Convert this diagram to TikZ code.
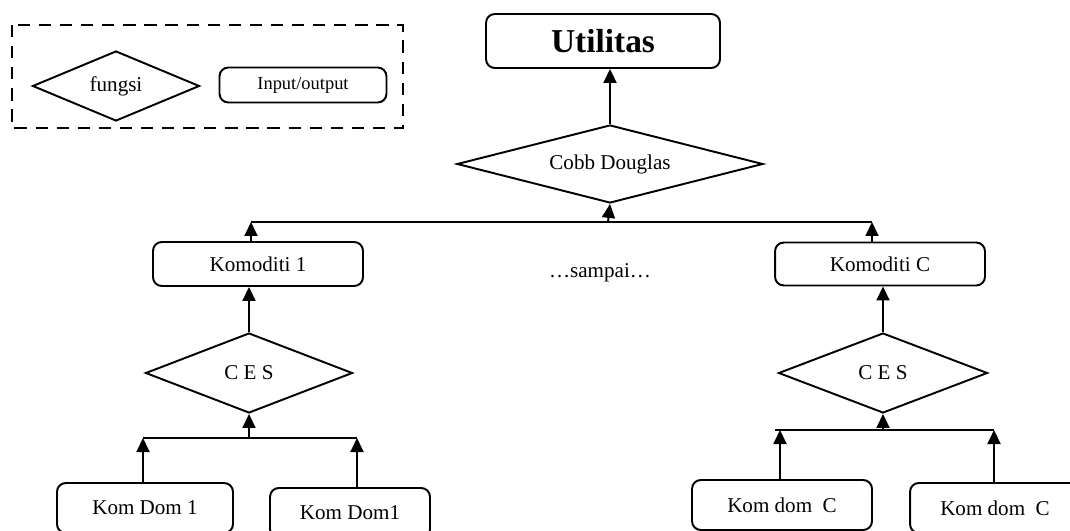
\documentclass[tikz,border=0pt]{standalone}
\usepackage{fontspec}
\setmainfont{Liberation Serif}
\usetikzlibrary{arrows.meta,positioning,shapes.geometric}
\tikzset{
	io/.style={draw,rounded corners=5pt,inner sep=0pt,align=center,font=\fontsize{12}{14}\selectfont},
	fn/.style={draw,diamond,inner sep=0pt,font=\fontsize{12}{14}\selectfont}
}
\begin{document}
\begin{tikzpicture}[x=0.02cm,y=-0.02cm,line width=1.1pt,>={Triangle[length=0.28cm,width=0.26cm]}]
			\clip (0,0) rectangle (1070,530);
			\draw[dash pattern=on 7pt off 5pt] (12,25) rectangle (403,128);
			\node[fn,aspect=2.4,minimum width=3.34cm,minimum height=1.4cm] (fungsi) at (116,86) {fungsi};
			\node[io,minimum width=3.34cm,minimum height=0.7cm,font=\fontsize{10.5}{12}\selectfont] (inout) at (303,85) {Input/output};
			\node[io,minimum width=4.68cm,minimum height=1.08cm,font=\fontsize{19}{22}\selectfont\bfseries] (util) at (603,41) {Utilitas};
			\node[fn,aspect=3.9,minimum width=6.12cm,minimum height=1.56cm] (cobb) at (610,164) {Cobb Douglas};
			\node[io,minimum width=4.2cm,minimum height=0.88cm] (kom1) at (258,264) {Komoditi 1};
			\node[io,minimum width=4.2cm,minimum height=0.86cm] (komC) at (880,264) {Komoditi C};
			\node[font=\fontsize{12}{14}\selectfont] (smp) at (600,273) {\ldots sampai\ldots};
			\node[fn,aspect=2.6,minimum width=4.14cm,minimum height=1.6cm] (ces1) at (249,373) {C E S};
			\node[fn,aspect=2.6,minimum width=4.18cm,minimum height=1.6cm] (cesC) at (883,373) {C E S};
			\node[io,minimum width=3.52cm,minimum height=1cm] (dom1a) at (145,508) {Kom Dom 1};
			\node[io,minimum width=3.2cm,minimum height=1cm] (dom1b) at (350,513) {Kom Dom1};
			\node[io,minimum width=3.6cm,minimum height=1cm] (domCa) at (782,505) {Kom dom\ \ C};
			\node[io,minimum width=3.4cm,minimum height=1cm] (domCb) at (995,508) {Kom dom\ \ C};
			\coordinate (jtop) at (608,222);
			\coordinate (jtopl) at (251,222);
			\coordinate (jtopr) at (872,222);
			\coordinate (j1) at (249,438);
			\coordinate (j1l) at (143,438);
			\coordinate (j1r) at (357,438);
			\coordinate (jC) at (883,430);
			\coordinate (jCl) at (780,430);
			\coordinate (jCr) at (994,430);
			\draw[->] (cobb.north) -- (cobb.north |- util.south);
			\draw (jtopl) -- (jtopr);
			\draw[->] (jtop) -- (cobb.south);
			\draw[->] (kom1.north -| jtopl) -- (jtopl);
			\draw[->] (komC.north -| jtopr) -- (jtopr);
			\draw[->] (ces1.north) -- (ces1.north |- kom1.south);
			\draw[->] (cesC.north) -- (cesC.north |- komC.south);
			\draw (j1l) -- (j1r);
			\draw[->] (j1) -- (ces1.south);
			\draw[->] (dom1a.north -| j1l) -- (j1l);
			\draw[->] (dom1b.north -| j1r) -- (j1r);
			\draw (jCl) ++(-5,0) -- (jCr);
			\draw[->] (jC) -- (cesC.south);
			\draw[->] (domCa.north -| jCl) -- (jCl);
			\draw[->] (domCb.north -| jCr) -- (jCr);
		\end{tikzpicture}
\end{document}
